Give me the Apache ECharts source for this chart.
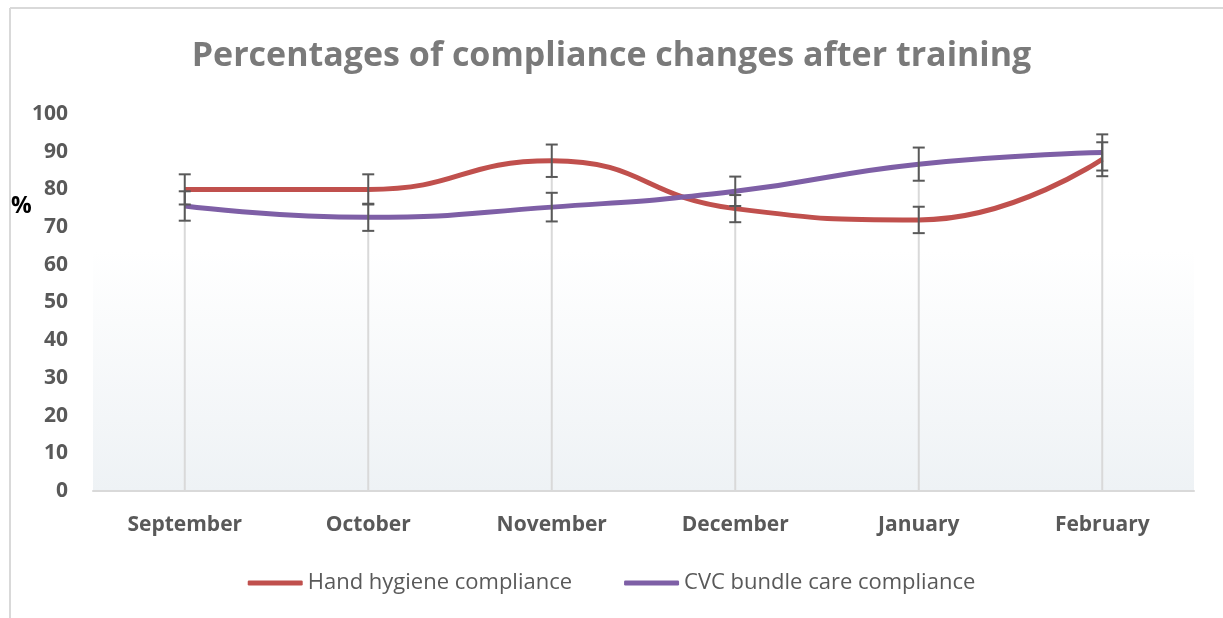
<!DOCTYPE html>
<html><head><meta charset="utf-8">
<script src="https://cdn.jsdelivr.net/npm/echarts@6/dist/echarts.min.js"></script>
<style>html,body{margin:0;padding:0;background:#fff}#c{width:1223px;height:618px}</style>
</head><body><div id="c"></div>
<script>
const categories = ['September','October','November','December','January','February'];
const handHygiene = [80, 80, 87.6, 74.9, 71.9, 88];
const handHygieneErr = [4, 4, 4.3, 3.6, 3.5, 4.5];
const cvcBundle = [75.6, 72.6, 75.3, 79.5, 86.7, 89.8];
const cvcBundleErr = [3.9, 3.6, 3.8, 3.9, 4.4, 4.8];
const yTicks = {min: 0, max: 100, interval: 10};

const RED = '#c0504d', PURPLE = '#7e5fa6', TXT = '#595959';
const FONT = '"Open Sans", Lato, sans-serif';
const chart = echarts.init(document.getElementById('c'));

function errData(vals, errs){ return vals.map((v,i)=>[i, v - errs[i], v + errs[i]]); }
function errRender(params, api){
  const x = api.value(0);
  const lo = api.coord([x, api.value(1)]);
  const hi = api.coord([x, api.value(2)]);
  const hw = 6;
  const st = {stroke: '#595959', lineWidth: 2};
  return {type:'group', children:[
    {type:'line', shape:{x1:lo[0],y1:lo[1],x2:hi[0],y2:hi[1]}, style:st},
    {type:'line', shape:{x1:lo[0]-hw,y1:lo[1],x2:lo[0]+hw,y2:lo[1]}, style:st},
    {type:'line', shape:{x1:hi[0]-hw,y1:hi[1],x2:hi[0]+hw,y2:hi[1]}, style:st}
  ]};
}
const dropData = categories.map((c,i)=>[i, Math.max(handHygiene[i], cvcBundle[i])]);
function dropRender(params, api){
  const x = api.value(0);
  const top = api.coord([x, api.value(1)]);
  const bot = api.coord([x, 0]);
  return {type:'line', shape:{x1:top[0],y1:top[1],x2:bot[0],y2:bot[1]}, style:{stroke:'#d9d9d9', lineWidth:2}};
}

chart.setOption({
  animation: false,
  backgroundColor: '#fff',
  title: {
    text: 'Percentages of compliance changes after training',
    left: 'center', top: 34,
    textStyle: {fontFamily: FONT, fontWeight: 'bold', fontSize: 34, color: '#7a7a7a'}
  },
  graphic: [
    {type:'line', shape:{x1:10,y1:8,x2:10,y2:618}, style:{stroke:'#d9d9d9', lineWidth:2}},
    {type:'line', shape:{x1:10,y1:8,x2:1223,y2:8}, style:{stroke:'#d9d9d9', lineWidth:2}},
    {type:'text', left: 11, top: 195, style:{text:'%', fontFamily:FONT, fontWeight:'bold', fontSize:23, fill:'#000'}}
  ],
  legend: {
    bottom: 19, left: 'center', itemGap: 52, itemWidth: 55, itemHeight: 5,
    icon: 'roundRect',
    textStyle: {fontFamily: FONT, fontSize: 22, color: TXT},
    data: ['Hand hygiene compliance', 'CVC bundle care compliance']
  },
  grid: {
    left: 93, right: 29, top: 114, bottom: 127, show: true, borderWidth: 0,
    backgroundColor: new echarts.graphic.LinearGradient(0,0,0,1,[
      {offset:0, color:'#ffffff'},{offset:0.36, color:'#ffffff'},{offset:1, color:'#eef2f5'}])
  },
  xAxis: {
    type: 'category', data: categories, boundaryGap: true,
    axisLine: {lineStyle:{color:'#d9d9d9', width:2}},
    axisTick: {show:false},
    axisLabel: {margin: 24, fontFamily:FONT, fontWeight:'bold', fontSize: 21, color: TXT}
  },
  yAxis: {
    type: 'value', min: yTicks.min, max: yTicks.max, interval: yTicks.interval,
    axisLine: {show:false}, axisTick:{show:false}, splitLine:{show:false},
    axisLabel: {margin: 25, fontFamily:FONT, fontWeight:'bold', fontSize: 21, color: TXT}
  },
  series: [
    {type:'custom', name:'drop', renderItem: dropRender, data: dropData, z: 1, silent: true},
    {name:'Hand hygiene compliance', type:'line', data: handHygiene, smooth: 0.5, symbol:'none',
     lineStyle:{color:RED, width:5}, itemStyle:{color:RED}, z: 3},
    {name:'CVC bundle care compliance', type:'line', data: cvcBundle, smooth: 0.5, symbol:'none',
     lineStyle:{color:PURPLE, width:5}, itemStyle:{color:PURPLE}, z: 3},
    {type:'custom', name:'errHand', renderItem: errRender, data: errData(handHygiene, handHygieneErr), z: 5, silent: true},
    {type:'custom', name:'errCvc', renderItem: errRender, data: errData(cvcBundle, cvcBundleErr), z: 5, silent: true}
  ]
});
</script></body></html>
